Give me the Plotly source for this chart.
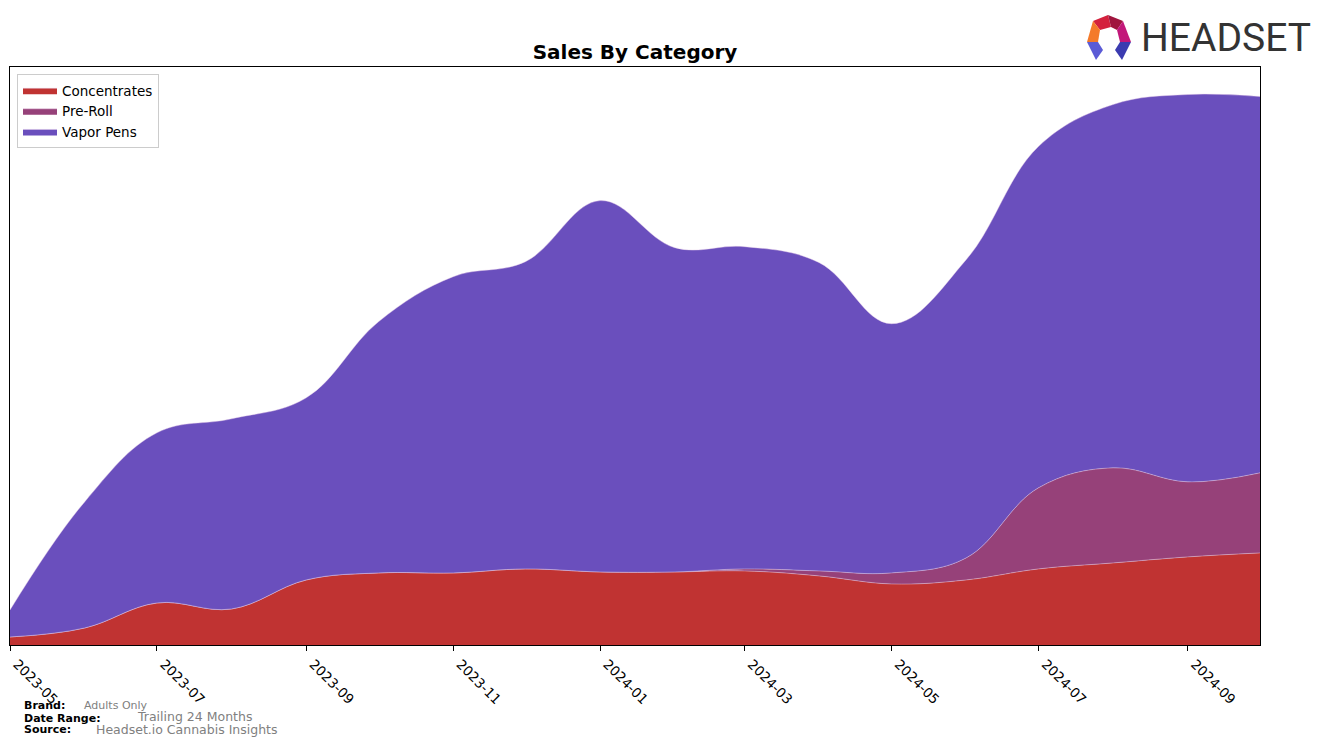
import plotly.graph_objects as go

months = ["2023-05-01", "2023-06-01", "2023-07-01", "2023-08-01", "2023-09-01", "2023-10-01",
          "2023-11-01", "2023-12-01", "2024-01-01", "2024-02-01", "2024-03-01", "2024-04-01",
          "2024-05-01", "2024-06-01", "2024-07-01", "2024-08-01", "2024-09-01", "2024-10-01"]
concentrates = [8, 17, 42, 36, 65, 72, 72, 76, 73, 73, 74, 69, 61, 65, 76, 82, 88, 92]
pre_roll = [0, 0, 0, 0, 0, 0, 0, 0, 0, 0, 2, 5, 11, 22, 81, 95, 75, 80]
vapor_pens = [27, 126, 170, 190, 182, 251, 296, 307, 371, 324, 322, 308, 249, 298, 341, 363, 387, 376]
tick_vals = ["2023-05-01", "2023-07-01", "2023-09-01", "2023-11-01", "2024-01-01",
             "2024-03-01", "2024-05-01", "2024-07-01", "2024-09-01"]
tick_text = ["2023-05", "2023-07", "2023-09", "2023-11", "2024-01",
             "2024-03", "2024-05", "2024-07", "2024-09"]

series = [("Concentrates", concentrates, "rgb(192,51,50)"),
          ("Pre-Roll", pre_roll, "rgb(150,65,121)"),
          ("Vapor Pens", vapor_pens, "rgb(106,79,189)")]

fig = go.Figure()
for name, vals, col in series:
    fig.add_trace(go.Scatter(
        x=months, y=vals, name=name, mode="lines", stackgroup="one",
        line=dict(shape="spline", smoothing=1.1, width=0.8, color="rgba(235,210,235,0.55)"),
        fillcolor=col,
    ))

# page body has an 8px margin: figure is offset by OFF from the window corner
OFF = 8
W, H = 1324 - OFF, 746 - OFF
# plot area in window pixels
L, R, T, B = 10, 1260, 67, 645

def px(x):
    return (x - L) / (R - L)

def py(y):
    return (B - y) / (B - T)

total_max = max(c + p + v for c, p, v in zip(concentrates, pre_roll, vapor_pens))

fig.update_layout(
    width=W, height=H,
    margin=dict(l=L - OFF, r=W - (R - OFF), t=T - OFF, b=H - (B - OFF), pad=0, autoexpand=False),
    plot_bgcolor="white", paper_bgcolor="white",
    font=dict(family="DejaVu Sans", color="black"),
    title=dict(text="<b>Sales By Category</b>", x=px(635), xref="paper", xanchor="center",
               y=1 - (52 - OFF) / H, yref="container", yanchor="middle",
               font=dict(size=20, family="DejaVu Sans", color="black")),
    showlegend=True,
    legend=dict(x=px(17), y=py(74), xanchor="left", yanchor="top",
                bgcolor="white", bordercolor="#cccccc", borderwidth=1,
                font=dict(size=13.5, family="DejaVu Sans"), traceorder="normal",
                itemwidth=34, tracegroupgap=0),
    xaxis=dict(type="date", range=[months[0], months[-1]], tickvals=tick_vals, ticktext=tick_text,
               tickangle=45, ticks="outside", ticklen=5, tickcolor="black", automargin=False,
               ticklabeloverflow="allow", ticklabelshift=7,
               showline=True, linecolor="black", linewidth=1, mirror=True,
               showgrid=False, zeroline=False, tickfont=dict(size=13.5, family="DejaVu Sans")),
    yaxis=dict(range=[0, total_max * 1.05], showticklabels=False, ticks="", automargin=False,
               showline=True, linecolor="black", linewidth=1, mirror=True,
               showgrid=False, zeroline=False),
)

# Footer
foot = [
    ("<b>Brand:</b>", 22, 705, 11, "black"),
    ("Adults Only", 82, 705, 11, "gray"),
    ("<b>Date Range:</b>", 22, 718, 11, "black"),
    ("Trailing 24 Months", 135, 716, 12.5, "gray"),
    ("<b>Source:</b>", 22, 729, 11, "black"),
    ("Headset.io Cannabis Insights", 94, 729.5, 12.5, "gray"),
]
for txt, x, y, sz, col in foot:
    fig.add_annotation(text=txt, x=px(x), y=py(y), xref="paper", yref="paper",
                       xanchor="left", yanchor="middle", showarrow=False,
                       font=dict(size=sz, color=col, family="DejaVu Sans"))

# Logo text
fig.add_annotation(text="HEADSET", x=px(1139), y=py(38), xref="paper", yref="paper",
                   xanchor="left", yanchor="middle", showarrow=False,
                   font=dict(size=39, color="#333333", family="Roboto, sans-serif"))

# Logo icon (polygon pieces) in paper coords
def pth(points):
    return "M " + " L ".join(f"{px(a)},{py(b)}" for a, b in points) + " Z"

icon = [
    ([(1093, 21), (1108, 15), (1111, 27), (1100, 30)], "#d4213d"),
    ([(1108, 15), (1123, 21), (1117, 30), (1111, 27)], "#a0153e"),
    ([(1093, 21), (1100, 30), (1098, 42), (1087, 42)], "#f47a2a"),
    ([(1123, 21), (1131, 42), (1120, 42), (1117, 30)], "#c2187a"),
    ([(1087, 42), (1098, 42), (1103, 50), (1096, 60)], "#5b5bd6"),
    ([(1131, 42), (1120, 42), (1115, 50), (1122, 60)], "#3b3bb0"),
]
for pts, col in icon:
    fig.add_shape(type="path", path=pth(pts), xref="paper", yref="paper",
                  fillcolor=col, line=dict(width=0), layer="above")

fig.write_html("out.html")
